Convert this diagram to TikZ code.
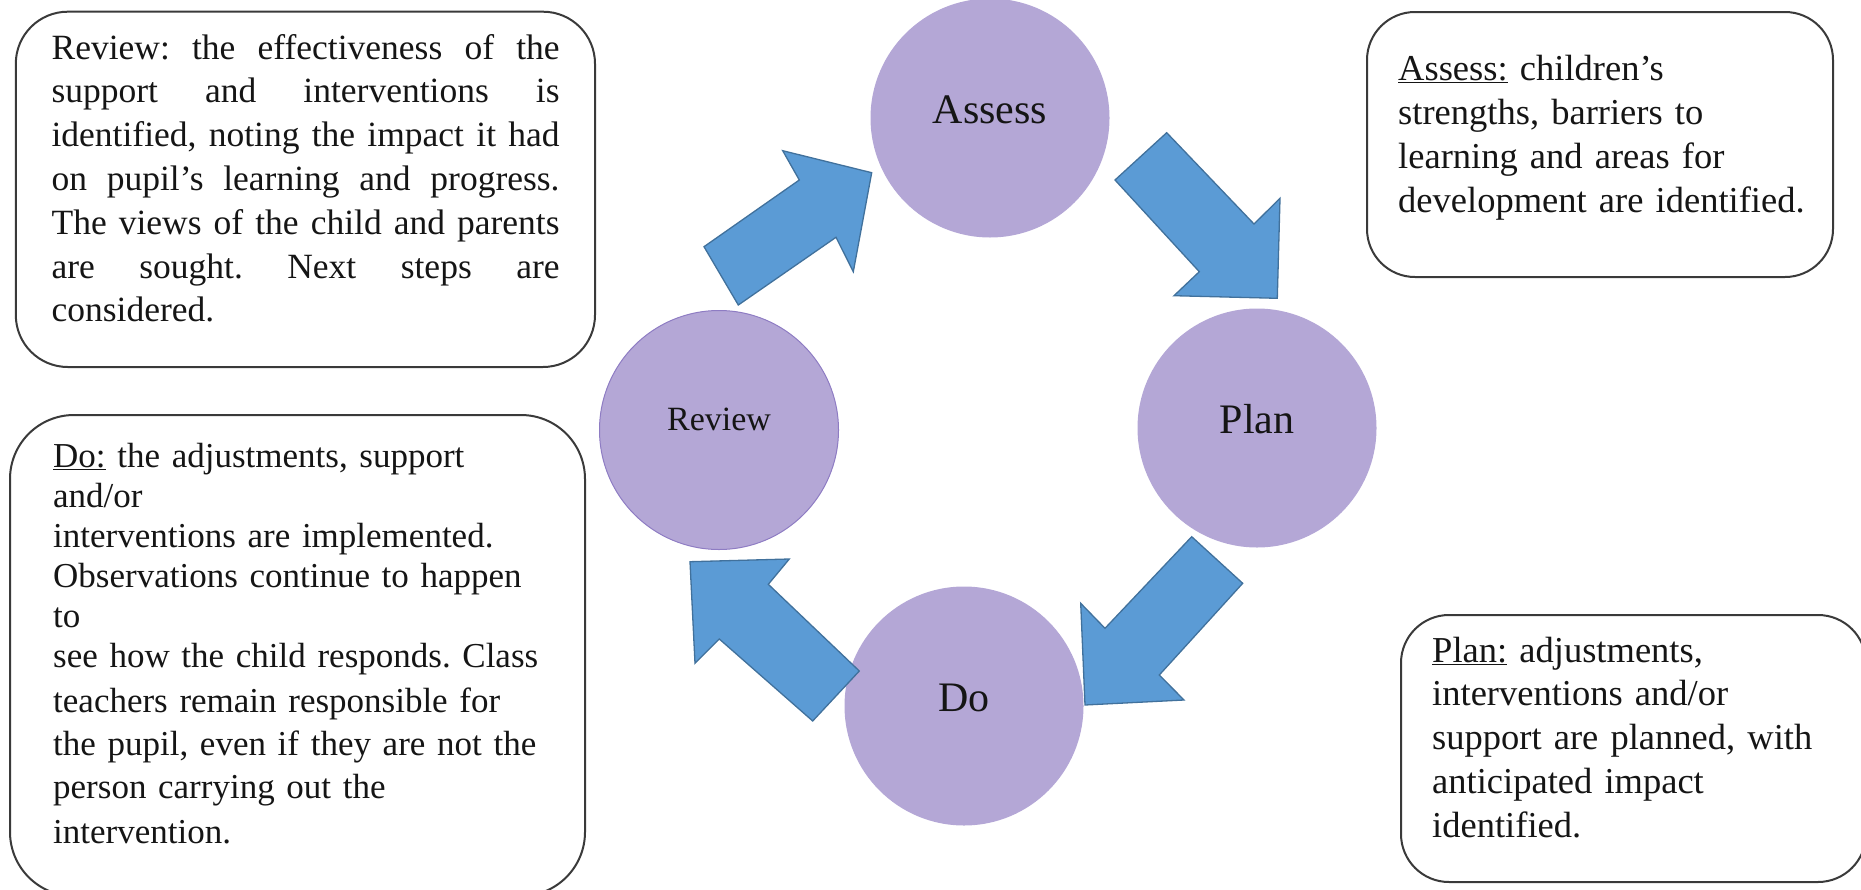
\documentclass[tikz,border=0pt]{standalone}
\usepackage{fontspec}
\setmainfont{Liberation Serif}
\frenchspacing
\definecolor{circ}{HTML}{B4A7D6}
\definecolor{circedge}{HTML}{8E7CC3}
\definecolor{arrfill}{HTML}{5B9BD5}
\definecolor{arredge}{HTML}{41719C}
\definecolor{boxedge}{HTML}{3A3A3A}
\definecolor{ink}{HTML}{151515}
\newcommand\revline[1]{\leavevmode\hbox to 508pt{\spaceskip=0.25em plus 1fil\relax #1}}
\begin{document}
\begin{tikzpicture}[x=1pt,y=-1pt,
  infobox/.style={draw=boxedge, line width=2pt},
  txt/.style={inner sep=0pt, anchor=north west, align=left, text=ink},
  stage/.style={circle, fill=circ, inner sep=0pt, minimum size=239pt, text=ink,
    font=\fontsize{42}{50}\selectfont, text height=38pt, text depth=28pt},
  blockarrow/.style={fill=arrfill, draw=arredge, line width=1.3pt, line join=miter}]
\useasboundingbox (0,0) rectangle (1861,889);

% description boxes
\draw[infobox, rounded corners=52pt] (15.8,11.7) rectangle (595,367);
\draw[infobox, rounded corners=64pt] (10,415) rectangle (585,896);
\draw[infobox, rounded corners=48pt] (1367,12) rectangle (1833,277);
\draw[infobox, rounded corners=48pt] (1401,615) rectangle (1866,882);

% stages
\node[stage] (assess) at (990,118) {Assess};
\node[stage] (plan) at (1257,428) {Plan};
\node[stage] (do) at (964,706) {Do};
\node[stage, draw=circedge, line width=1pt, font=\fontsize{34}{40}\selectfont,
  text height=22pt, text depth=22pt] (review) at (719,430) {Review};

% block arrows
\filldraw[blockarrow] (704,246.7) -- (799.3,180) -- (782.7,150.7) -- (871.7,172.7)
  -- (853.3,271.7) -- (836,237.3) -- (738.3,305) -- cycle;
\filldraw[blockarrow] (1166.7,132.7) -- (1254,224) -- (1280,198.3) -- (1277.3,298.3)
  -- (1174,295.7) -- (1199.3,271.7) -- (1115,180) -- cycle;
\filldraw[blockarrow] (1191.7,536.7) -- (1242.7,583.3) -- (1159.3,675) -- (1184,700)
  -- (1085,705) -- (1080.7,603.3) -- (1105,628.3) -- cycle;
\filldraw[blockarrow] (690,561.7) -- (789.3,559) -- (768.3,584.3) -- (859.3,671)
  -- (812.7,721) -- (719.3,639) -- (695,663.3) -- cycle;

% texts
\node[txt, text width=512pt, font=\fontsize{35.5}{43.8}\selectfont] (revtext) at (51.4,28.3)
{\strut\revline{Review: the effectiveness of the}\\
\revline{support and interventions is}\\
\revline{identified, noting the impact it had}\\
\revline{on pupil's learning and progress.}\\
\revline{The views of the child and parents}\\
\revline{are sought. Next steps are}\\
considered.};

\node[txt, text width=540pt, font=\fontsize{35}{40}\selectfont] (dotext) at (53,439)
{\strut\underline{Do:} the adjustments, support\\
and/or\\
interventions are implemented.\\
Observations continue to happen\\
to\\
see how the child responds. Class\\[5pt]
teachers remain responsible for\\[3pt]
the pupil, even if they are not the\\[3pt]
person carrying out the\\[5pt]
intervention.};

\node[txt, text width=430pt, font=\fontsize{36.5}{44}\selectfont] (assesstext) at (1398,49.2)
{\strut\underline{Assess:} children's\\
strengths, barriers to\\
learning and areas for\\
development are identified.};

\node[txt, text width=420pt, font=\fontsize{36.5}{43.75}\selectfont] (plantext) at (1432,631.4)
{\strut\underline{Plan:} adjustments,\\
interventions and/or\\
support are planned, with\\
anticipated impact\\
identified.};
\end{tikzpicture}
\end{document}
